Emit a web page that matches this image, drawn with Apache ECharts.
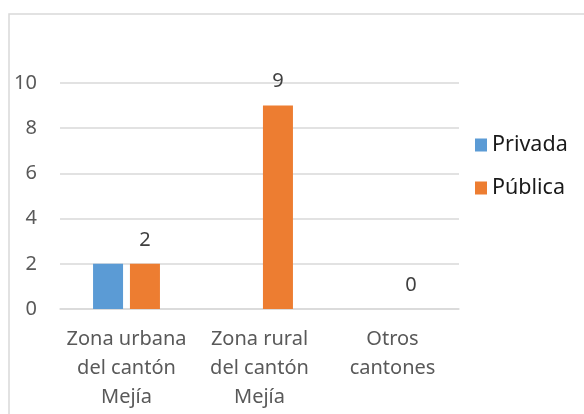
<!DOCTYPE html>
<html>
<head>
<meta charset="utf-8">
<script src="https://cdn.jsdelivr.net/npm/echarts@6/dist/echarts.min.js"></script>
<style>
  html, body { margin: 0; padding: 0; background: #ffffff; }
  #chart { width: 584px; height: 414px; }
</style>
</head>
<body>
<div id="chart"></div>
<script>
// Zonas de procedencia, por tipo de institución
const categories = ['Zona urbana\ndel cantón\nMejía', 'Zona rural\ndel cantón\nMejía', 'Otros\ncantones'];
const privada = [2, 0, 0];
const publica = [2, 9, 0];
const seriesNames = ['Privada', 'Pública'];
const yTicks = { min: 0, max: 10, interval: 2 };

const chart = echarts.init(document.getElementById('chart'), null, { renderer: 'canvas' });
const font = '"Noto Sans", "Open Sans", sans-serif';

chart.setOption({
  animation: false,
  backgroundColor: '#ffffff',
  graphic: [{
    type: 'rect',
    shape: { x: 9, y: 14, width: 700, height: 500 },
    style: { fill: 'none', stroke: '#d9d9d9', lineWidth: 1.5 },
    silent: true
  }],
  grid: { left: 60, right: 125, top: 83, bottom: 105 },
  legend: {
    orient: 'vertical',
    left: 475,
    top: 134,
    padding: 0,
    itemWidth: 12,
    itemHeight: 13,
    itemGap: 21,
    icon: 'rect',
    textStyle: { fontFamily: font, fontSize: 21.5, color: '#1a1a1a' },
    data: seriesNames
  },
  xAxis: {
    type: 'category',
    data: categories,
    axisLine: { lineStyle: { color: '#d9d9d9', width: 1.5 } },
    axisTick: { show: false },
    axisLabel: {
      fontFamily: font, fontSize: 20, color: '#595959',
      lineHeight: 29, margin: 16, interval: 0
    }
  },
  yAxis: {
    type: 'value',
    min: yTicks.min, max: yTicks.max, interval: yTicks.interval,
    axisLine: { show: false },
    axisTick: { show: false },
    splitLine: { lineStyle: { color: '#d9d9d9', width: 1.5 } },
    axisLabel: { fontFamily: font, fontSize: 20, color: '#595959', margin: 23 }
  },
  series: [
    {
      name: seriesNames[0],
      type: 'bar',
      data: privada,
      barWidth: 30,
      barGap: '23%',
      itemStyle: { color: '#5B9BD5' }
    },
    {
      name: seriesNames[1],
      type: 'bar',
      data: publica,
      barWidth: 30,
      barGap: '23%',
      itemStyle: { color: '#ED7D31' },
      label: {
        show: true, position: 'top', distance: 14,
        fontFamily: font, fontSize: 20, color: '#404040'
      }
    }
  ]
});
</script>
</body>
</html>
